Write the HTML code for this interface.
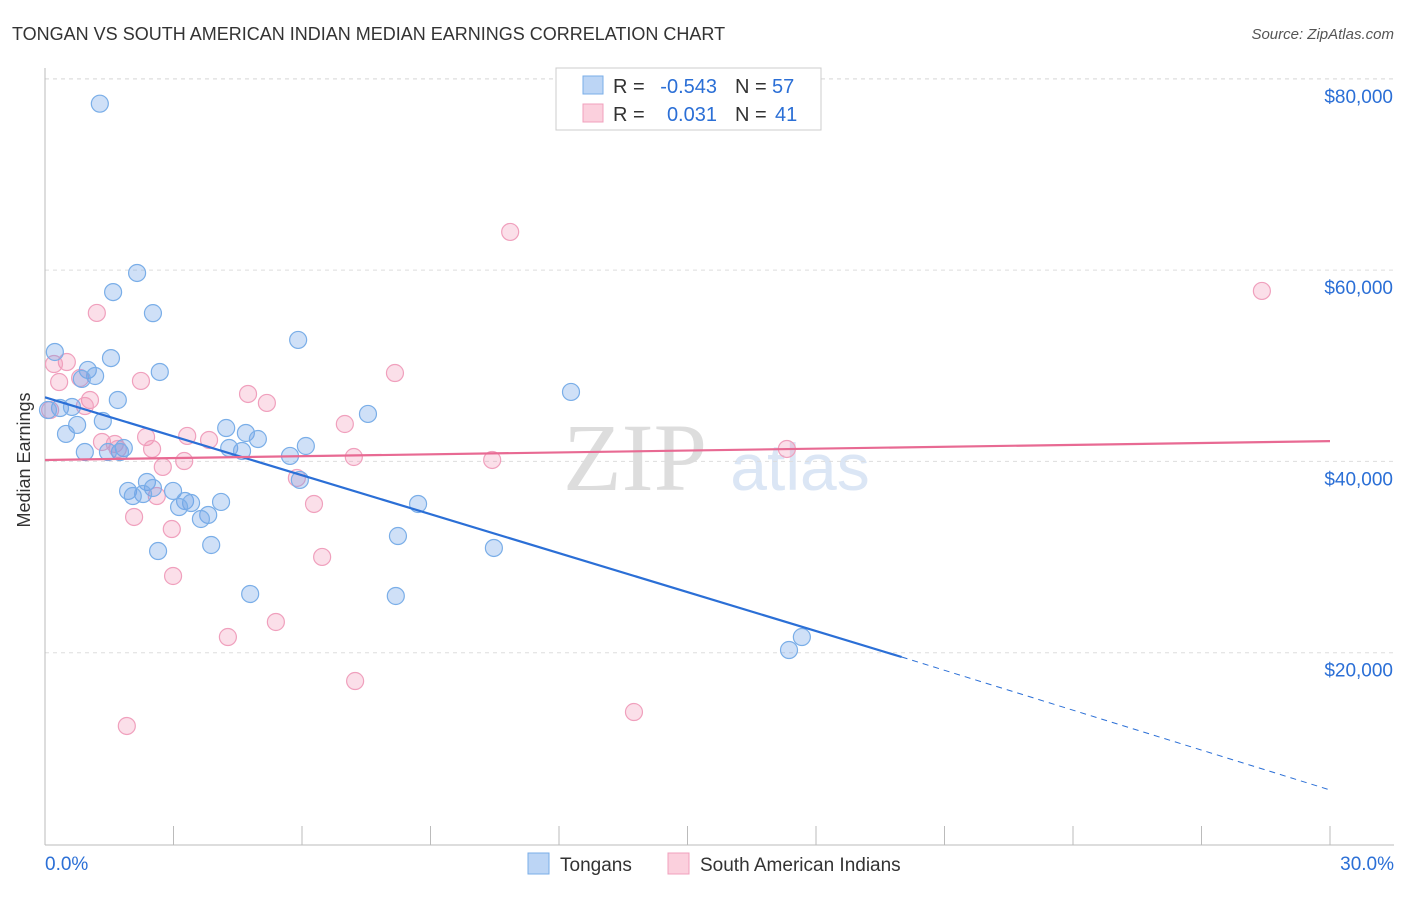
<!DOCTYPE html>
<html><head><meta charset="utf-8"><style>
body{margin:0;background:#fff;font-family:"Liberation Sans",sans-serif;}
svg text{font-family:"Liberation Sans",sans-serif;}
</style></head><body>
<svg id="chart" width="1406" height="892" xmlns="http://www.w3.org/2000/svg">
<text x="12" y="40" font-size="18" fill="#333">TONGAN VS SOUTH AMERICAN INDIAN MEDIAN EARNINGS CORRELATION CHART</text>
<text x="1394" y="39" font-size="15" fill="#555" text-anchor="end" font-style="italic">Source: ZipAtlas.com</text>
<text x="30" y="460" font-size="18" fill="#333" text-anchor="middle" transform="rotate(-90 30 460)">Median Earnings</text>
<g><text x="635" y="490" font-size="96" fill="#ddd" text-anchor="middle" style="font-family:'Liberation Serif',serif">ZIP</text><text x="800" y="490" font-size="66" fill="#dbe6f5" text-anchor="middle">atlas</text></g>
<g id="grid"></g><g id="axes"></g><g id="pts"></g><g id="lines"></g>
<g>
<rect x="556" y="68" width="265" height="62" fill="#fff" stroke="#ccc"/>
<rect x="583" y="76" width="20" height="18" fill="#bcd5f5" stroke="#7aaee8"/>
<text x="613" y="93" font-size="20" fill="#333">R =</text>
<text x="717" y="93" font-size="20" fill="#2b6fd6" text-anchor="end">-0.543</text>
<text x="735" y="93" font-size="20" fill="#333">N =</text>
<text x="772" y="93" font-size="20" fill="#2b6fd6">57</text>
<rect x="583" y="104" width="20" height="18" fill="#fbd0dd" stroke="#f0a0bd"/>
<text x="613" y="121" font-size="20" fill="#333">R =</text>
<text x="717" y="121" font-size="20" fill="#2b6fd6" text-anchor="end">0.031</text>
<text x="735" y="121" font-size="20" fill="#333">N =</text>
<text x="775" y="121" font-size="20" fill="#2b6fd6">41</text>
</g>
<g>
<rect x="528" y="853" width="21" height="21" fill="#bcd5f5" stroke="#7aaee8"/>
<text x="560" y="871" font-size="19" fill="#333">Tongans</text>
<rect x="668" y="853" width="21" height="21" fill="#fbd0dd" stroke="#f0a0bd"/>
<text x="700" y="871" font-size="19" fill="#333">South American Indians</text>
</g>
</svg>
<script>
const yTicks=[20000,40000,60000,80000];
const yTickLabels=["$20,000","$40,000","$60,000","$80,000"];
const xTicks=[0,3,6,9,12,15,18,21,24,27,30];
const blueX=[1.28,2.15,1.59,2.52,0.23,1.54,5.91,2.68,1.00,1.17,0.86,1.70,12.28,7.54,0.35,0.63,0.07,1.35,0.75,0.49,4.23,4.69,4.97,4.30,4.60,1.84,1.75,1.47,0.93,6.09,5.72,5.95,2.38,1.94,2.52,2.99,2.29,2.05,3.27,3.41,4.11,3.13,3.81,3.64,8.71,8.24,3.88,2.64,10.48,4.79,8.19,17.67,17.37];
const blueY=[77400,59700,57700,55500,51440,50800,52700,49350,49560,48930,48620,46420,47260,44960,45580,45690,45370,44220,43810,42870,43490,42970,42340,41400,41090,41400,40980,40980,40980,41610,40570,38060,37850,36910,37220,36910,36590,36380,35860,35650,35760,35230,34400,33980,35550,32200,31260,30630,30950,26140,25930,21640,20280];
const pinkX=[10.86,28.41,1.21,0.51,0.21,0.33,8.17,2.24,0.82,1.05,4.74,5.18,0.93,0.12,7.00,3.32,2.36,3.83,1.33,1.63,1.70,2.50,7.21,10.44,17.32,3.25,2.75,5.88,6.28,2.61,2.08,2.96,6.47,2.99,5.39,4.27,7.24,13.75,1.91];
const pinkY=[63990,57820,55520,50390,50180,48300,49240,48410,48720,46420,47050,46110,45790,45370,43910,42660,42550,42240,42030,41820,41300,41300,40460,40150,41300,40040,39420,38270,35550,36380,34190,32930,30010,28020,23210,21640,17040,13800,12340];
const blueTrend=[46700,19550,5650];
const pinkTrend=[40150,42120];
const NS="http://www.w3.org/2000/svg";
const X=v=>45+v/30*1285, Y=v=>844-v/20000*191.3;
function mk(t,a,p){const e=document.createElementNS(NS,t);for(const k in a)e.setAttribute(k,a[k]);p.appendChild(e);return e;}
const gridG=document.getElementById('grid'),axesG=document.getElementById('axes');
yTicks.forEach((v,i)=>{const l=mk('line',{x1:45,x2:1394,y1:Y(v),y2:Y(v),stroke:'#ddd','stroke-dasharray':'4,4'},gridG);


const t=mk('text',{x:1393,y:Y(v)+24,'font-size':19,fill:'#2b6fd6','text-anchor':'end'},axesG);t.textContent=yTickLabels[i];

});
const topGrid=mk('line',{x1:45,x2:1394,y1:79,y2:79,stroke:'#ddd','stroke-dasharray':'4,4'},gridG);


const ya=mk('line',{x1:45,x2:45,y1:68,y2:845,stroke:'#bbb'},axesG);


const xa=mk('line',{x1:45,x2:1394,y1:845,y2:845,stroke:'#bbb'},axesG);


xTicks.forEach(v=>{const l=mk('line',{x1:X(v),x2:X(v),y1:826,y2:845,stroke:'#bbb'},axesG);

});
const t0=mk('text',{x:45,y:870,'font-size':19,fill:'#2b6fd6'},axesG);t0.textContent='0.0%';


const t1=mk('text',{x:1394,y:870,'font-size':19,fill:'#2b6fd6','text-anchor':'end'},axesG);t1.textContent='30.0%';


const ptsG=document.getElementById('pts');
pinkX.forEach((v,i)=>{const c=mk('circle',{cx:X(v),cy:Y(pinkY[i]),r:8.5,fill:'rgba(240,140,175,0.28)',stroke:'#f0a0bd','stroke-width':1.2},ptsG);

});
blueX.forEach((v,i)=>{const c=mk('circle',{cx:X(v),cy:Y(blueY[i]),r:8.5,fill:'rgba(110,160,230,0.33)',stroke:'#7aaee8','stroke-width':1.2},ptsG);

});
const linesG=document.getElementById('lines');
const b1=mk('line',{x1:X(0),y1:Y(blueTrend[0]),x2:X(20),y2:Y(blueTrend[1]),stroke:'#2b6fd6','stroke-width':2.2},linesG);


const b2=mk('line',{x1:X(20),y1:Y(blueTrend[1]),x2:X(30),y2:Y(blueTrend[2]),stroke:'#2b6fd6','stroke-width':1,'stroke-dasharray':'6,5'},linesG);


const p1=mk('line',{x1:X(0),y1:Y(pinkTrend[0]),x2:X(30),y2:Y(pinkTrend[1]),stroke:'#e86a93','stroke-width':2.2},linesG);


</script>
</body></html>
